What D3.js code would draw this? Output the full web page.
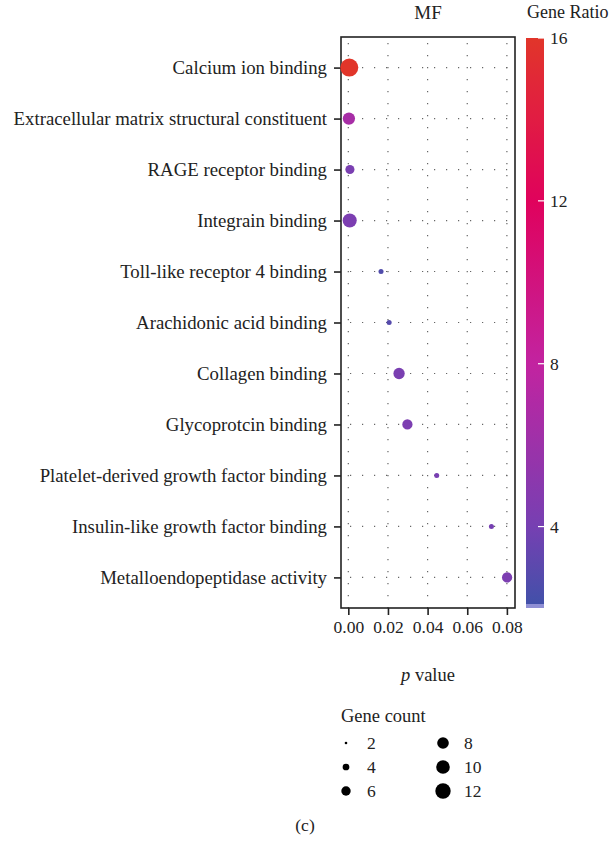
<!DOCTYPE html>
<html>
<head>
<meta charset="utf-8">
<script src="https://cdn.jsdelivr.net/npm/d3@7"></script>
<style>
  body { margin: 0; background: #fff; }
  text { font-family: "Liberation Serif", "DejaVu Serif", serif; fill: #222; }
</style>
</head>
<body>
<div id="chart"></div>
<script>
// MF enrichment dot plot

var terms = [
  "Calcium ion binding",
  "Extracellular matrix structural constituent",
  "RAGE receptor binding",
  "Integrain binding",
  "Toll-like receptor 4 binding",
  "Arachidonic acid binding",
  "Collagen binding",
  "Glycoprotcin binding",
  "Platelet-derived growth factor binding",
  "Insulin-like growth factor binding",
  "Metalloendopeptidase activity"
];
var pValues = [0.0005, 0.0003, 0.0008, 0.0007, 0.0165, 0.0206, 0.0256, 0.0298, 0.0446, 0.0722, 0.0801];
var geneCounts = [16, 9, 6, 11, 3, 3, 8, 7, 3, 3, 7];
var geneRatios = [16, 6.6, 4.2, 4.3, 2.6, 2.8, 4.2, 4.3, 4.1, 4.0, 4.3];

var xTicks = [0, 0.02, 0.04, 0.06, 0.08];
var ratioTicks = [4, 8, 12, 16];
var countLegend = [2, 4, 6, 8, 10, 12];

var width = 610;
var height = 842;

var panelLeft = 341;
var panelRight = 515;
var panelTop = 37;
var panelBottom = 608;

var svg = d3.select("#chart")
  .append("svg")
  .attr("width", width)
  .attr("height", height);

// scales
var pExt = d3.extent(pValues);
var pad = (pExt[1] - pExt[0]) * 0.05;
var xScale = d3.scaleLinear()
  .domain([pExt[0] - pad, pExt[1] + pad])
  .range([panelLeft, panelRight]);

var yScale = d3.scalePoint()
  .domain(terms)
  .range([panelTop, panelBottom])
  .padding(0.6);

var rScale = d3.scaleSqrt()
  .domain([2, 16])
  .range([1.6, 9]);

var colorScale = d3.scaleLinear()
  .domain([2, 4, 8, 12, 16])
  .range(["#3f51a8", "#7640b2", "#c223a0", "#e0025c", "#e1352a"]);

// grid (dotted)
var grid = svg.append("g").attr("class", "grid");
grid.selectAll("line.vgrid")
  .data(xTicks)
  .enter()
  .append("line")
  .attr("class", "vgrid")
  .attr("x1", function(d) { return xScale(d); })
  .attr("x2", function(d) { return xScale(d); })
  .attr("y1", panelTop + 6)
  .attr("y2", panelBottom)
  .attr("stroke", "#666")
  .attr("stroke-width", 1.2)
  .attr("stroke-dasharray", "1.2,10.8");

grid.selectAll("line.hgrid")
  .data(terms)
  .enter()
  .append("line")
  .attr("class", "hgrid")
  .attr("x1", panelLeft + 9)
  .attr("x2", panelRight)
  .attr("y1", function(d) { return yScale(d); })
  .attr("y2", function(d) { return yScale(d); })
  .attr("stroke", "#666")
  .attr("stroke-width", 1.2)
  .attr("stroke-dasharray", "1.2,10.8");

// axes
var xAxis = d3.axisBottom(xScale)
  .tickValues(xTicks)
  .tickSize(7)
  .tickPadding(6)
  .tickFormat(d3.format(".2f"));

var yAxis = d3.axisLeft(yScale)
  .tickSize(7)
  .tickPadding(7);

var gx = svg.append("g")
  .attr("transform", "translate(0," + panelBottom + ")")
  .call(xAxis);
gx.select(".domain").remove();
gx.selectAll("line").attr("stroke", "#222").attr("stroke-width", 1.6);
gx.selectAll("text")
  .attr("font-size", 17.5)
  .attr("font-family", "Liberation Serif")
  .attr("fill", "#222");

var gy = svg.append("g")
  .attr("transform", "translate(" + panelLeft + ",0)")
  .call(yAxis);
gy.select(".domain").remove();
gy.selectAll("line").attr("stroke", "#222").attr("stroke-width", 1.6);
gy.selectAll("text")
  .attr("font-size", 18.8)
  .attr("font-family", "Liberation Serif")
  .attr("fill", "#222");

// panel border
svg.append("rect")
  .attr("x", panelLeft)
  .attr("y", panelTop)
  .attr("width", panelRight - panelLeft)
  .attr("height", panelBottom - panelTop)
  .attr("fill", "none")
  .attr("stroke", "#222")
  .attr("stroke-width", 1.6);

// points
var rows = terms.map(function(t, i) {
  return { term: t, p: pValues[i], count: geneCounts[i], ratio: geneRatios[i] };
});

svg.selectAll("circle.dot")
  .data(rows)
  .enter()
  .append("circle")
  .attr("class", "dot")
  .attr("cx", function(d) { return xScale(d.p); })
  .attr("cy", function(d) { return yScale(d.term); })
  .attr("r", function(d) { return rScale(d.count); })
  .attr("fill", function(d) { return colorScale(d.ratio); });

// titles
svg.append("text")
  .attr("x", (panelLeft + panelRight) / 2)
  .attr("y", 19)
  .attr("text-anchor", "middle")
  .attr("font-size", 19)
  .text("MF");

var pLabel = svg.append("text")
  .attr("x", (panelLeft + panelRight) / 2)
  .attr("y", 681)
  .attr("text-anchor", "middle")
  .attr("font-size", 18.5);
pLabel.append("tspan").attr("font-style", "italic").text("p");
pLabel.append("tspan").text(" value");

// colour bar
var barX = 526;
var barW = 18;
var barScale = d3.scaleLinear()
  .domain([2, 16])
  .range([panelBottom, panelTop + 1]);

var defs = svg.append("defs");
var grad = defs.append("linearGradient")
  .attr("id", "ratioGrad")
  .attr("x1", "0").attr("y1", "1")
  .attr("x2", "0").attr("y2", "0");
d3.range(2, 16.01, 0.5).forEach(function(v) {
  grad.append("stop")
    .attr("offset", (v - 2) / 14)
    .attr("stop-color", colorScale(v));
});

svg.append("rect")
  .attr("x", barX)
  .attr("y", barScale(16))
  .attr("width", barW)
  .attr("height", barScale(2) - barScale(16))
  .attr("fill", "url(#ratioGrad)");

svg.append("rect")
  .attr("x", barX)
  .attr("y", barScale(2) - 4)
  .attr("width", barW)
  .attr("height", 4)
  .attr("fill", "#8f8fd4");

svg.selectAll("line.barTick")
  .data(ratioTicks)
  .enter()
  .append("line")
  .attr("class", "barTick")
  .attr("x1", barX + barW - 6)
  .attr("x2", barX + barW)
  .attr("y1", function(d) { return barScale(d); })
  .attr("y2", function(d) { return barScale(d); })
  .attr("stroke", "#fff")
  .attr("stroke-width", 1.2);

svg.selectAll("text.barLabel")
  .data(ratioTicks)
  .enter()
  .append("text")
  .attr("class", "barLabel")
  .attr("x", barX + barW + 6)
  .attr("y", function(d) { return barScale(d) + 6; })
  .attr("font-size", 17.5)
  .text(function(d) { return d; });

svg.append("text")
  .attr("x", 527)
  .attr("y", 18)
  .attr("font-size", 18)
  .text("Gene Ratio");

// size legend
svg.append("text")
  .attr("x", 341)
  .attr("y", 722)
  .attr("font-size", 18.5)
  .text("Gene count");

var legRowY = [743, 767, 791];
var legItems = svg.selectAll("g.legItem")
  .data(countLegend)
  .enter()
  .append("g")
  .attr("class", "legItem")
  .attr("transform", function(d, i) {
    var col = Math.floor(i / 3);
    return "translate(" + (346 + col * 97) + "," + legRowY[i % 3] + ")";
  });

legItems.append("circle")
  .attr("r", function(d) { return d === 2 ? 1.3 : rScale(d) * 1.03; })
  .attr("fill", "#000");

legItems.append("text")
  .attr("x", 21)
  .attr("y", 6)
  .attr("font-size", 17.5)
  .text(function(d) { return d; });

svg.append("text")
  .attr("x", 305)
  .attr("y", 831)
  .attr("text-anchor", "middle")
  .attr("font-size", 17.5)
  .text("(c)");
</script>
</body>
</html>
